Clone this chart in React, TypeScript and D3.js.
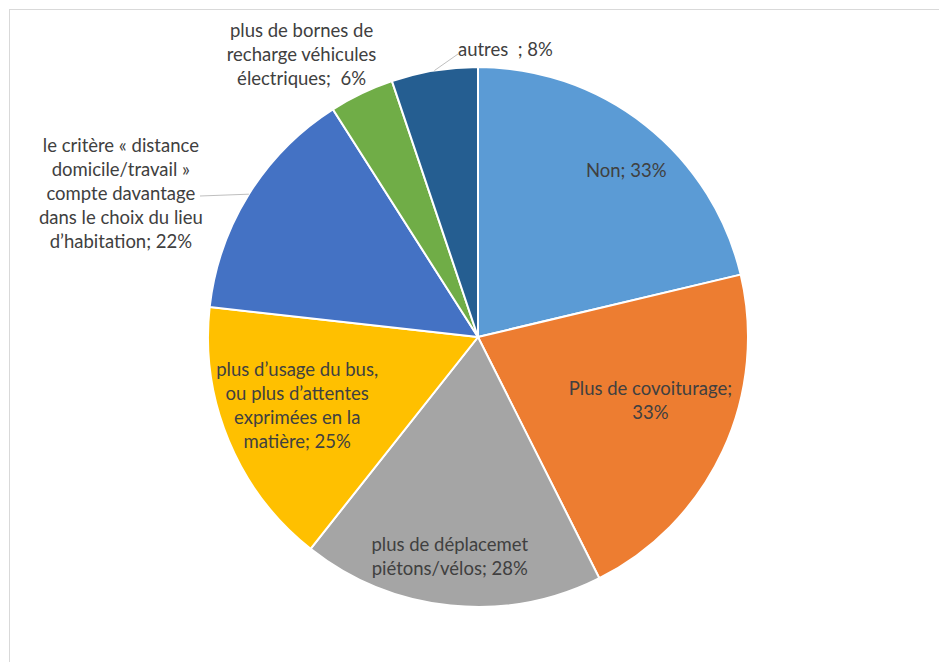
import React from "react";
import * as d3 from "d3";

const categories = [
  "Non",
  "Plus de covoiturage",
  "plus de déplacemet piétons/vélos",
  "plus d’usage du bus, ou plus d’attentes exprimées en la matière",
  "le critère « distance domicile/travail » compte davantage dans le choix du lieu d’habitation",
  "plus de bornes de recharge véhicules électriques",
  "autres ",
];
const values = [33, 33, 28, 25, 22, 6, 8];
const labelLines = [
  ["Non; 33%"],
  ["Plus de covoiturage;", "33%"],
  ["plus de déplacemet", "piétons/vélos; 28%"],
  ["plus d’usage du bus,", "ou plus d’attentes", "exprimées en la", "matière; 25%"],
  ["le critère « distance", "domicile/travail »", "compte davantage", "dans le choix du lieu", "d’habitation; 22%"],
  ["plus de bornes de", "recharge véhicules", "électriques;  6%"],
  ["autres  ; 8%"],
];
const colors = ["#5B9BD5", "#ED7D31", "#A5A5A5", "#FFC000", "#4472C4", "#70AD47", "#255E91"];

export default function App() {
  const W = 939, H = 662;
  const cx = 478, cy = 337, r = 270;
  const lineH = 24;
  const pie = d3.pie<number>().sort(null).value((d) => d)(values);
  const arc = d3.arc<d3.PieArcDatum<number>>().innerRadius(0).outerRadius(r);
  const labelArc = d3.arc<d3.PieArcDatum<number>>().innerRadius(210).outerRadius(210);
  const outerArc = d3.arc<d3.PieArcDatum<number>>().innerRadius(r).outerRadius(r);

  const layout: { dx: number; dy: number; leader?: [number, number] }[] = [
    { dx: 18, dy: -2 },
    { dx: -18, dy: -26 },
    { dx: -7, dy: 10 },
    { dx: 13, dy: -13 },
    { dx: -128, dy: -1, leader: [200, 196] },
    { dx: -60, dy: -39 },
    { dx: 71, dy: -22, leader: [458, 54] },
  ];

  return (
    <svg
      width={W}
      height={H}
      style={{ position: "absolute", left: 0, top: 0, background: "#fff" }}
      fontFamily="Lato, 'Open Sans', sans-serif"
    >
      <rect x={9.5} y={9.5} width={W + 20} height={H + 20} fill="#fff" stroke="#d9d9d9" strokeWidth={1} />
      <g transform={`translate(${cx},${cy})`}>
        {pie.map((p, i) => (
          <path key={categories[i]} d={arc(p) || ""} fill={colors[i]} stroke="#fff" strokeWidth={2} />
        ))}
      </g>
      {pie.map((p, i) => {
        const L = layout[i];
        const base = i >= 4 ? outerArc.centroid(p) : labelArc.centroid(p);
        const x = cx + base[0] + L.dx;
        const y = cy + base[1] + L.dy;
        const lines = labelLines[i];
        const y0 = y - ((lines.length - 1) * lineH) / 2;
        const edge = outerArc.centroid(p);
        return (
          <g key={"l" + i}>
            {L.leader && (
              <line
                x1={L.leader[0]}
                y1={L.leader[1]}
                x2={cx + edge[0]}
                y2={cy + edge[1]}
                stroke="#bfbfbf"
                strokeWidth={1}
              />
            )}
            <text
              x={x}
              y={y0}
              textAnchor="middle"
              dominantBaseline="central"
              fontSize={18.5}
              fill="#404040"
              style={{ whiteSpace: "pre" }}
            >
              {lines.map((t, j) => (
                <tspan key={j} x={x} y={y0 + j * lineH}>
                  {t}
                </tspan>
              ))}
            </text>
          </g>
        );
      })}
    </svg>
  );
}
